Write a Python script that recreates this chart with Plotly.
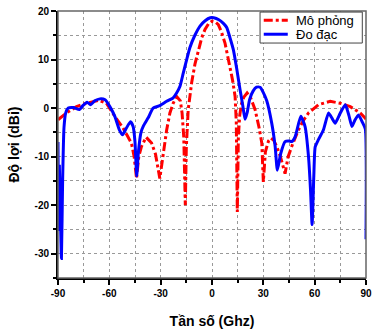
import plotly.graph_objects as go

# Measured (Đo đạc)
meas_angle = [-90, -89.6, -89.2, -88.7, -88.0, -87.3, -86.5, -85.5, -84, -81, -77.5, -75.5, -73, -71, -68.5,
              -65.5, -62.5, -59.7, -56.8, -54, -52.3, -50, -47.6, -46.1, -45, -44, -43, -41.5, -40, -37.3,
              -34.4, -30.5, -26.5, -22.7, -20.7, -18.7, -16.8, -14.8, -12.9, -10, -7, -4, -1, 1, 4, 6.5,
              8.6, 10.5, 12.5, 14.5, 16.4, 18, 19.3, 20.5, 22, 24, 26, 28.1, 30, 32, 34.9, 36.9, 38.2,
              40.2, 42.7, 45, 46.6, 48.6, 51.9, 54.4, 56.4, 57.6, 58.5, 59.5, 60.3, 62.2, 65.1, 68.1, 70,
              72, 75, 77.9, 80, 81.8, 83.5, 85.6, 88, 89.6, 90]
meas_gain = [-7, -25, -12, -20, -31, -15, -4, -1, 0, 0.1, -0.3, 0.5, 1.2, 0.7, 1.5,
             1.9, 1.7, 0.3, -1.7, -4.6, -5.5, -4.1, -2.8, -3.8, -7, -14, -9, -5, -3.6, -2,
             0, 0.5, 1.4, 2.1, 3.1, 4.5, 7.2, 10, 12.5, 15, 16.9, 18.0, 18.6, 18.6, 18.2, 17.5,
             16.6, 14.5, 12, 8, 3.8, 0.5, -2.3, -1.0, 1.8, 3.5, 4.3, 4.3, 3.2, 1.5, -3.1, -7.9, -12.8,
             -9.3, -6.9, -6.8, -6.9, -5.9, -1.7, -3.8, -10, -17, -24, -14, -8, -6.5, -4.5, -1.0, -2.0,
             -3.1, -1.0, 0.7, -1.5, -3.8, -2.5, -1.4, -3, -4.3, -27]

# Simulated (Mô phỏng)
sim_angle = [-90, -85.1, -79.2, -73.4, -66, -61.7, -56.8, -52, -47.1, -45.5, -44.1, -42.8, -41.2, -38.5,
             -35.3, -33, -30.5, -28.5, -26.5, -24.6, -22.7, -20.7, -18.5, -17.5, -16.5, -15.6, -15,
             -13.9, -11.9, -10, -8, -6, -4.1, -2, 0, 2, 3.7, 5.5, 7.6, 10.5, 12, 13.5, 14.2, 14.8,
             15.4, 16.2, 17.2, 18.5, 20.5, 22.5, 25.2, 27.5, 29.1, 30.0, 31.2, 33, 34.5, 36, 37.8,
             40, 42.7, 44.5, 46.6, 50.5, 53.5, 56.4, 62.2, 69.1, 74.9, 80.8, 86.6, 89.6, 90]
sim_gain = [-2.4, -1.0, 0.3, 1.0, 1.6, 1.0, -1.7, -4.1, -7.2, -10, -14.5, -10, -7.9, -6.0,
            -7.2, -9.5, -14.5, -9, -4.5, -1, 1.0, 2.4, 1.5, -1, -6, -20, -8,
            -0.3, 5.2, 9, 12.0, 14.5, 16.2, 17.4, 17.9, 17.7, 17.2, 15.7, 13.4, 8.6, 5.8, 2.4, -3, -21.4,
            -6, -1.5, 0.8, 2.2, 3.1, 2.2, -0.35, -4, -7.2, -15.2, -9, -6.8, -6.2, -6.6, -7.9,
            -10, -13.5, -10, -7.9, -4.5, -2.5, -1.0, 0.7, 1.4, 1.0, 0.3, -1.0, -2.1, -2.3]

series_names = ["Mô phỏng", "Đo đạc"]
series_colors = ["#ff0000", "#0000ff"]
series_dash = ["9px,3px,3px,3px", "solid"]

x_ticks = [-90, -60, -30, 0, 30, 60, 90]
y_ticks = [-30, -20, -10, 0, 10, 20]

fig = go.Figure()
fig.add_trace(go.Scatter(x=sim_angle, y=sim_gain, mode="lines", name=series_names[0], showlegend=False,
                         line=dict(color=series_colors[0], width=3, dash=series_dash[0])))
fig.add_trace(go.Scatter(x=meas_angle, y=meas_gain, mode="lines", name=series_names[1], showlegend=False,
                         line=dict(color=series_colors[1], width=3, shape="spline", smoothing=0.5)))

GRID = "#999999"
tickfont = dict(family="Liberation Sans", size=10, color="black", weight="bold")
titlefont = dict(family="Liberation Sans", size=14, color="black", weight="bold")
fig.update_xaxes(range=[-90, 90], tickvals=x_ticks, ticktext=[str(v) for v in x_ticks],
                 ticks="outside", ticklen=5, tickwidth=1.5, tickcolor="black",
                 showline=True, linecolor="black", linewidth=2, zeroline=False, automargin=False,
                 ticklabeloverflow="allow",
                 showgrid=True, gridcolor=GRID, griddash="dot", gridwidth=1,
                 minor=dict(dtick=15, tick0=-90, ticks="outside", ticklen=3, tickcolor="black",
                            showgrid=True, gridcolor=GRID, griddash="dot", gridwidth=1),
                 tickfont=tickfont,
                 title=dict(text="Tần số (Ghz)", standoff=18, font=titlefont))
fig.update_yaxes(range=[-35, 20], tickvals=y_ticks, ticktext=[str(v) for v in y_ticks],
                 ticks="outside", ticklen=5, tickwidth=1.5, tickcolor="black",
                 showline=True, linecolor="black", linewidth=2, zeroline=False, automargin=False,
                 ticklabeloverflow="allow",
                 showgrid=True, gridcolor=GRID, griddash="dot", gridwidth=1,
                 minor=dict(dtick=5, tick0=0, ticks="outside", ticklen=3, tickcolor="black",
                            showgrid=True, gridcolor=GRID, griddash="dot", gridwidth=1),
                 tickfont=tickfont,
                 title=dict(text="Độ lợi (dBi)", standoff=12, font=titlefont))

# plot frame (top/right)
fig.add_shape(type="rect", xref="paper", yref="paper", x0=0, x1=1, y0=0, y1=1,
              line=dict(color="#666666", width=1.5), layer="above")

# legend box drawn in paper coordinates
lx0, lx1, ly0, ly1 = 0.656, 0.988, 0.88, 0.996
fig.add_shape(type="rect", xref="paper", yref="paper", x0=lx0, x1=lx1, y0=ly0, y1=ly1,
              line=dict(color="#444444", width=1), fillcolor="white", layer="above")
for i, (nm, col, dsh) in enumerate(zip(series_names, series_colors, series_dash)):
    yy = ly1 - 0.031 - i * 0.052
    fig.add_shape(type="line", xref="paper", yref="paper", x0=lx0 + 0.012, x1=lx0 + 0.09, y0=yy, y1=yy,
                  line=dict(color=col, width=3, dash=dsh), layer="above")
    fig.add_annotation(xref="paper", yref="paper", x=lx0 + 0.11, y=yy, text=nm, showarrow=False,
                       xanchor="left", yanchor="middle",
                       font=dict(family="Liberation Sans", size=13, color="black"))

fig.update_layout(
    width=373, height=336,
    margin=dict(l=58, r=7, t=11, b=58),
    plot_bgcolor="white", paper_bgcolor="white",
    showlegend=False,
)

# remove the default 8px page margin so the 373x336 figure fills the window exactly
fig.write_html("out.html", config={"displayModeBar": False},
               post_script="document.body.style.margin='0';")
